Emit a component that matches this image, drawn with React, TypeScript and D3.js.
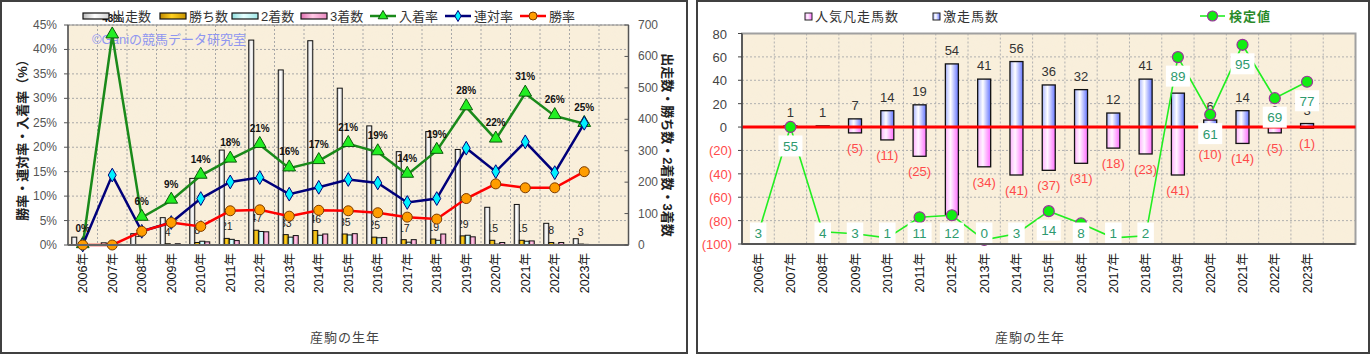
import React from 'react';
import * as d3 from 'd3';

// ---------- data ----------
const years = ['2006年','2007年','2008年','2009年','2010年','2011年','2012年','2013年','2014年','2015年','2016年','2017年','2018年','2019年','2020年','2021年','2022年','2023年'];
const starts = [25, 7, 36, 87, 212, 302, 652, 557, 650, 499, 379, 297, 361, 304, 120, 129, 69, 20];
const wins = [0, 0, 1, 4, 8, 21, 47, 33, 46, 35, 25, 17, 19, 29, 15, 15, 8, 3];
const seconds = [0, 1, 0, 0, 12, 18, 43, 25, 31, 32, 23, 9, 15, 31, 3, 12, 2, 2];
const thirds = [0, 2, 1, 4, 10, 14, 42, 30, 35, 36, 24, 17, 35, 26, 8, 13, 8, 0];
const placeRate = [0, 42.9, 5.6, 9.1, 14.2, 17.5, 20.5, 15.7, 17.2, 20.7, 19.0, 14.4, 19.3, 28.2, 21.6, 31.0, 26.4, 24.8];
const rentaiRate = [0, 14.3, 2.8, 4.6, 9.5, 12.9, 13.8, 10.4, 11.8, 13.4, 12.7, 8.7, 9.5, 19.8, 15.0, 21.1, 14.8, 24.9];
const winRate = [0, 0, 2.8, 4.6, 3.8, 7.0, 7.2, 5.9, 7.1, 7.0, 6.6, 5.7, 5.3, 9.5, 12.5, 11.7, 11.7, 15.0];
const placeLabels = ['0%','43%','6%','9%','14%','18%','21%','16%','17%','21%','19%','14%','19%','28%','22%','31%','26%','25%'];
const leftTicks = [0, 5, 10, 15, 20, 25, 30, 35, 40, 45];
const rightTicks = [0, 100, 200, 300, 400, 500, 600, 700];

const gekisou: (number | null)[] = [null, 1, 1, 7, 14, 19, 54, 41, 56, 36, 32, 12, 41, 29, 6, 14, 3, 3];
const bonsou: (number | null)[] = [null, null, null, 5, 11, 25, 75, 34, 41, 37, 31, 18, 23, 41, 10, 14, 5, 1];
const kentei = [3, 55, 4, 3, 1, 11, 12, 0, 3, 14, 8, 1, 2, 89, 61, 95, 69, 77];
const rTicks = [-100, -80, -60, -40, -20, 0, 20, 40, 60, 80];

const FONT = '"Liberation Sans", "Noto Sans CJK JP", sans-serif';

// ---------- scales ----------
const slots = [...years, '_'];
const xL = d3.scaleBand<string>().domain(slots).range([68, 628.5]);
const yL = d3.scaleLinear().domain([0, 45]).range([245, 25]);
const yLR = d3.scaleLinear().domain([0, 700]).range([245, 25]);

const xR = d3.scaleBand<string>().domain(slots).range([742, 1355.5]);
const yR = d3.scaleLinear().domain([-100, 80]).range([244, 33.5]);
const yK = d3.scaleLinear().domain([-2, 100.5]).range([244, 33.5]);

const cx = (i: number) => (xL(years[i]) as number) + xL.bandwidth() / 2;
const cxR = (i: number) => (xR(years[i]) as number) + xR.bandwidth() / 2;

const lineGen = (ys: number[], yS: (v: number) => number, xs: (i: number) => number) =>
  d3.line<number>().x((_, i) => xs(i)).y((v) => yS(v))(ys) as string;

const tri = d3.symbol(d3.symbolTriangle, 70)() as string;
const dia = d3.symbol(d3.symbolDiamond, 55)() as string;

function Defs() {
  const grad = (id: string, stops: [number, string][]) => (
    <linearGradient id={id} x1="0" x2="1" y1="0" y2="0">
      {stops.map(([o, c], k) => <stop key={k} offset={o} stopColor={c} />)}
    </linearGradient>
  );
  return (
    <defs>
      {grad('gWhite', [[0, '#b8b8b8'], [0.45, '#ffffff'], [1, '#d0d0d0']])}
      {grad('gGold', [[0, '#c08a00'], [0.45, '#ffd020'], [1, '#c89400']])}
      {grad('gCyan', [[0, '#8fdede'], [0.45, '#e6ffff'], [1, '#a0e8e8']])}
      {grad('gPink', [[0, '#e070b0'], [0.45, '#ffc8e4'], [1, '#e888c0']])}
      {grad('gBlue', [[0, '#a8b4ff'], [0.4, '#ffffff'], [1, '#6474ff']])}
      {grad('gMag', [[0, '#ffb0ff'], [0.4, '#fff4ff'], [1, '#ff70ff']])}
      <filter id="paper" x="0" y="0" width="100%" height="100%">
        <feTurbulence type="fractalNoise" baseFrequency="0.03" numOctaves="3" seed="4" />
        <feColorMatrix type="matrix" values="0 0 0 0 0.93  0 0 0 0 0.86  0 0 0 0 0.73  1.3 0 0 0 -0.5" />
      </filter>
    </defs>
  );
}

function Paper({ x, y, w, h }: { x: number; y: number; w: number; h: number }) {
  return (
    <g>
      <rect x={x} y={y} width={w} height={h} fill="#f9efdb" />
      <rect x={x} y={y} width={w} height={h} filter="url(#paper)" opacity={0.4} />
    </g>
  );
}

function LeftChart() {
  const [x0, x1] = xL.range();
  const barW = 5;
  const series = [
    { vals: starts, fill: 'url(#gWhite)', off: -11 },
    { vals: wins, fill: 'url(#gGold)', off: -6 },
    { vals: seconds, fill: 'url(#gCyan)', off: -1 },
    { vals: thirds, fill: 'url(#gPink)', off: 4 },
  ];
  return (
    <g fontFamily={FONT}>
      <rect x={1} y={1} width={686} height={352} fill="#fff" stroke="#404040" strokeWidth={2} />
      <Paper x={x0} y={25} w={x1 - x0} h={220} />
      {leftTicks.slice(1).map((t) => (
        <line key={'h' + t} x1={x0} x2={x1} y1={yL(t)} y2={yL(t)} stroke="#a8a8a8" strokeDasharray="2,2" />
      ))}
      {slots.slice(1).map((s) => (
        <line key={'v' + s} x1={xL(s)} x2={xL(s)} y1={25} y2={245} stroke="#a8a8a8" strokeDasharray="2,2" />
      ))}
      <rect x={x0} y={25} width={x1 - x0} height={220} fill="none" stroke="#8a8a8a" />
      <text x={92} y={44} fontSize={13} fill="#8f96f0">©Ganiの競馬データ研究室</text>
      {wins.map((w, i) =>
        i >= 2 ? (
          <text key={'wl' + i} x={cx(i) - 3.5} y={yLR(w) - 8} fontSize={10.5} textAnchor="middle" fill="#222">{w}</text>
        ) : null
      )}
      {series.map((s, k) =>
        s.vals.map((v, i) => (
          <rect key={k + '-' + i} x={cx(i) + s.off} y={yLR(v)} width={barW} height={yLR(0) - yLR(v)}
            fill={s.fill} stroke="#111" strokeWidth={1} />
        ))
      )}
      <path d={lineGen(placeRate, yL, cx)} fill="none" stroke="#1a8a1a" strokeWidth={2.5} />
      <path d={lineGen(rentaiRate, yL, cx)} fill="none" stroke="#00007a" strokeWidth={2.5} />
      <path d={lineGen(winRate, yL, cx)} fill="none" stroke="#ff0000" strokeWidth={2.5} />
      {placeRate.map((v, i) => (
        <path key={'t' + i} d={tri} transform={`translate(${cx(i)},${yL(v) - 1})`} fill="#22ee22" stroke="#0a5a0a" strokeWidth={1} />
      ))}
      {rentaiRate.map((v, i) => (
        <path key={'d' + i} d={dia} transform={`translate(${cx(i)},${yL(v)})`} fill="#00f0ff" stroke="#00007a" strokeWidth={1} />
      ))}
      {winRate.map((v, i) => (
        <circle key={'c' + i} cx={cx(i)} cy={yL(v)} r={5} fill="#ff9d00" stroke="#7a3a00" strokeWidth={1} />
      ))}
      {placeRate.map((v, i) => (
        <text key={'pl' + i} x={cx(i)} y={yL(v) - 13} fontSize={10} fontWeight="bold" textAnchor="middle" fill="#111">{placeLabels[i]}</text>
      ))}
      <line x1={x0} x2={x0} y1={25} y2={245} stroke="#555" strokeWidth={1.5} />
      <line x1={x1} x2={x1} y1={25} y2={245} stroke="#555" strokeWidth={1.5} />
      <line x1={x0} x2={x1} y1={245} y2={245} stroke="#666" strokeWidth={2} />
      {leftTicks.map((t) => (
        <g key={'lt' + t}>
          <line x1={x0 - 4} x2={x0} y1={yL(t)} y2={yL(t)} stroke="#555" />
          <text x={57} y={yL(t) + 4} fontSize={12} textAnchor="end" fill="#555">{t}%</text>
        </g>
      ))}
      {rightTicks.map((t) => (
        <g key={'rt' + t}>
          <line x1={x1 - 4} x2={x1} y1={yLR(t)} y2={yLR(t)} stroke="#555" />
          <text x={638} y={yLR(t) + 4} fontSize={12} textAnchor="start" fill="#555">{t}</text>
        </g>
      ))}
      {years.map((y, i) => (
        <text key={'xl' + i} transform={`translate(${cx(i) + 4.5},253) rotate(-90)`} fontSize={12.5} textAnchor="end" fill="#111">{y}</text>
      ))}
      <text transform="translate(27,137) rotate(-90)" fontSize={13} fontWeight="bold" textAnchor="middle" fill="#222">勝率・連対率・入着率（%）</text>
      <text transform="translate(663,145) rotate(90)" fontSize={13} fontWeight="bold" textAnchor="middle" fill="#222">出走数・勝ち数・2着数・3着数</text>
      <text x={345} y={342} fontSize={13} textAnchor="middle" fill="#444" letterSpacing={1}>産駒の生年</text>
      <g fontSize={13} fill="#333">
        {[
          { x: 83, fill: 'url(#gWhite)', label: '出走数' },
          { x: 160, fill: 'url(#gGold)', label: '勝ち数' },
          { x: 232, fill: 'url(#gCyan)', label: '2着数' },
          { x: 301, fill: 'url(#gPink)', label: '3着数' },
        ].map((l) => (
          <g key={l.label}>
            <rect x={l.x} y={13} width={26} height={6} fill={l.fill} stroke="#111" strokeWidth={1.2} />
            <text x={l.x + 29} y={21}>{l.label}</text>
          </g>
        ))}
        <line x1={370} x2={396} y1={16} y2={16} stroke="#1a8a1a" strokeWidth={2.5} />
        <path d={d3.symbol(d3.symbolTriangle, 40)() as string} transform="translate(383,16)" fill="#22ee22" stroke="#0a5a0a" />
        <text x={399} y={21}>入着率</text>
        <line x1={445} x2={471} y1={16} y2={16} stroke="#00007a" strokeWidth={2.5} />
        <path d={d3.symbol(d3.symbolDiamond, 35)() as string} transform="translate(458,16)" fill="#00f0ff" stroke="#00007a" />
        <text x={474} y={21}>連対率</text>
        <line x1={520} x2={546} y1={16} y2={16} stroke="#ff0000" strokeWidth={2.5} />
        <circle cx={533} cy={16} r={4} fill="#ff9d00" stroke="#7a3a00" />
        <text x={549} y={21}>勝率</text>
      </g>
    </g>
  );
}

function RightChart() {
  const [x0, x1] = xR.range();
  const bw = 13;
  const kPts = kentei.map((v, i) => ({ x: cxR(i), y: yK(v), v }));
  return (
    <g fontFamily={FONT}>
      <rect x={697} y={1} width={672} height={352} fill="#fff" stroke="#404040" strokeWidth={2} />
      <Paper x={x0} y={33.5} w={x1 - x0} h={210.5} />
      {rTicks.map((t) => (
        <line key={'h' + t} x1={x0} x2={x1} y1={yR(t)} y2={yR(t)} stroke="#b0b0b0" strokeDasharray="2,2" />
      ))}
      {slots.slice(1).map((s) => (
        <line key={'v' + s} x1={xR(s)} x2={xR(s)} y1={33.5} y2={244} stroke="#b0b0b0" strokeDasharray="2,2" />
      ))}
      <rect x={x0} y={33.5} width={x1 - x0} height={210.5} fill="none" stroke="#a0a0a0" strokeWidth={2} />
      {gekisou.map((v, i) =>
        v == null ? null : (
          <g key={'g' + i}>
            <rect x={cxR(i) - bw / 2} y={yR(v)} width={bw} height={yR(0) - yR(v)} fill="url(#gBlue)" stroke="#111" strokeWidth={1.3} />
            <text x={cxR(i)} y={yR(v) - 9} fontSize={13} textAnchor="middle" fill="#333">{v}</text>
          </g>
        )
      )}
      {bonsou.map((v, i) =>
        v == null ? null : (
          <g key={'b' + i}>
            <rect x={cxR(i) - bw / 2} y={yR(0)} width={bw} height={yR(-v) - yR(0)} fill="url(#gMag)" stroke="#111" strokeWidth={1.3} />
            <text x={cxR(i)} y={yR(-v) + 20} fontSize={13} textAnchor="middle" fill="#ff4a4a">({v})</text>
          </g>
        )
      )}
      <line x1={x0} x2={x1} y1={yR(0)} y2={yR(0)} stroke="#ff0000" strokeWidth={3} />
      <path d={lineGen(kentei, yK, cxR)} fill="none" stroke="#22ee22" strokeWidth={1.6} />
      {kPts.map((p, i) => (
        <circle key={'k' + i} cx={p.x} cy={p.y} r={5.5} fill="#11ee11" stroke="#993399" strokeWidth={1.2} />
      ))}
      {kPts.map((p, i) => {
        const ly = Math.min(p.y + 19, 233);
        const w = String(p.v).length * 7.5 + 9;
        return (
          <g key={'kl' + i}>
            <rect x={p.x - w / 2} y={ly - 10.5} width={w} height={21} fill="#fff" />
            <text x={p.x} y={ly + 5} fontSize={13.5} textAnchor="middle" fill="#2e9a6e">{p.v}</text>
          </g>
        );
      })}
      <line x1={x0} x2={x0} y1={33.5} y2={244} stroke="#444" strokeWidth={1.5} />
      <line x1={x0} x2={x1} y1={244} y2={244} stroke="#555" strokeWidth={2} />
      {rTicks.map((t) => (
        <g key={'rt' + t}>
          <line x1={x0 - 4} x2={x0} y1={yR(t)} y2={yR(t)} stroke="#444" />
          <text x={t < 0 ? 732 : 727} y={yR(t) + 5} fontSize={13} textAnchor="end" fill={t < 0 ? '#ff4a4a' : '#444'}>
            {t < 0 ? `(${-t})` : t}
          </text>
        </g>
      ))}
      {years.map((y, i) => (
        <text key={'xl' + i} transform={`translate(${cxR(i) + 4.5},253) rotate(-90)`} fontSize={12.5} textAnchor="end" fill="#111">{y}</text>
      ))}
      <text x={1030} y={342} fontSize={13} textAnchor="middle" fill="#444" letterSpacing={1}>産駒の生年</text>
      <g fontSize={13} fill="#333" letterSpacing={1}>
        <rect x={805} y={13} width={7} height={7} fill="url(#gMag)" stroke="#222" />
        <text x={815} y={21}>人気凡走馬数</text>
        <rect x={933} y={13} width={7} height={7} fill="url(#gBlue)" stroke="#222" />
        <text x={943} y={21}>激走馬数</text>
        <line x1={1200} x2={1225} y1={16} y2={16} stroke="#22ee22" strokeWidth={1.6} />
        <circle cx={1212.5} cy={16} r={5} fill="#11ee11" stroke="#993399" strokeWidth={1.2} />
        <text x={1229} y={21} fill="#2a8a2a" fontWeight="bold">検定値</text>
      </g>
    </g>
  );
}

export default function App() {
  return (
    <svg width={1371} height={355} style={{ position: 'absolute', left: 0, top: 0, background: '#fff' }}>
      <Defs />
      <LeftChart />
      <RightChart />
    </svg>
  );
}
